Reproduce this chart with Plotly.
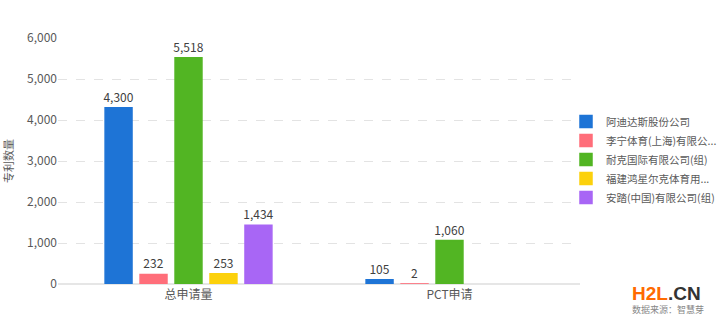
import plotly.graph_objects as go

categories = ["总申请量", "PCT申请"]
series_names = ["阿迪达斯股份公司", "李宁体育(上海)有限公...", "耐克国际有限公司(组)", "福建鸿星尔克体育用...", "安踏(中国)有限公司(组)"]
series_values = [
    [4300, 105],
    [232, 2],
    [5518, 1060],
    [253, None],
    [1434, None],
]
colors = ["#1E74D6", "#FF6E7A", "#52B523", "#FCD10C", "#A866F5"]
y_ticks = [0, 1000, 2000, 3000, 4000, 5000, 6000]

fig = go.Figure()
for name, vals, c in zip(series_names, series_values, colors):
    fig.add_trace(go.Bar(
        x=categories, y=vals, name=name,
        marker=dict(color=c, line=dict(color=c, width=1.5)),
        text=[f"{v:,}" if v is not None else "" for v in vals],
        textposition="outside", cliponaxis=False, constraintext="none",
        textfont=dict(size=12, color="#404040"),
    ))

fig.update_layout(
    width=720, height=319,
    margin=dict(l=58, r=140, t=38, b=35, autoexpand=False),
    paper_bgcolor="white", plot_bgcolor="white",
    font=dict(family="Noto Sans CJK SC, Noto Sans, sans-serif", size=12, color="#595959"),
    barmode="group", bargap=0.33, bargroupgap=0.23,
    showlegend=True,
    legend=dict(xref="container", x=566/720, xanchor="left", yref="container", y=0.5, yanchor="middle",
                font=dict(size=10.5, color="#595959"), itemwidth=30,
                tracegroupgap=0, bgcolor="rgba(0,0,0,0)"),
    xaxis=dict(showline=True, linecolor="#e6e6e6", ticks="", tickfont=dict(size=12, color="#595959")),
    yaxis=dict(range=[0, 6000], tickvals=y_ticks, tickformat=",",
               showgrid=True, gridcolor="#e3e3e3", griddash="dash",
               zeroline=True, zerolinecolor="#e6e6e6",
               tickfont=dict(size=12, color="#595959"),
               title=dict(text="专利数量", font=dict(size=11, color="#595959"), standoff=14)),
)

fig.add_annotation(xref="paper", yref="paper", x=1.0 + 50/522, y=-0.04, xanchor="left", yanchor="middle",
                   text="<b><span style='color:#FF6A00'>H2L</span><span style='color:#333333'>.CN</span></b>",
                   showarrow=False, font=dict(size=19, family="Liberation Sans, Arial"))
fig.add_annotation(xref="paper", yref="paper", x=1.0 + 50/522, y=-0.102, xanchor="left", yanchor="middle",
                   text="数据来源：智慧芽", showarrow=False, font=dict(size=9, color="#888888"))

fig.write_html("out.html")
